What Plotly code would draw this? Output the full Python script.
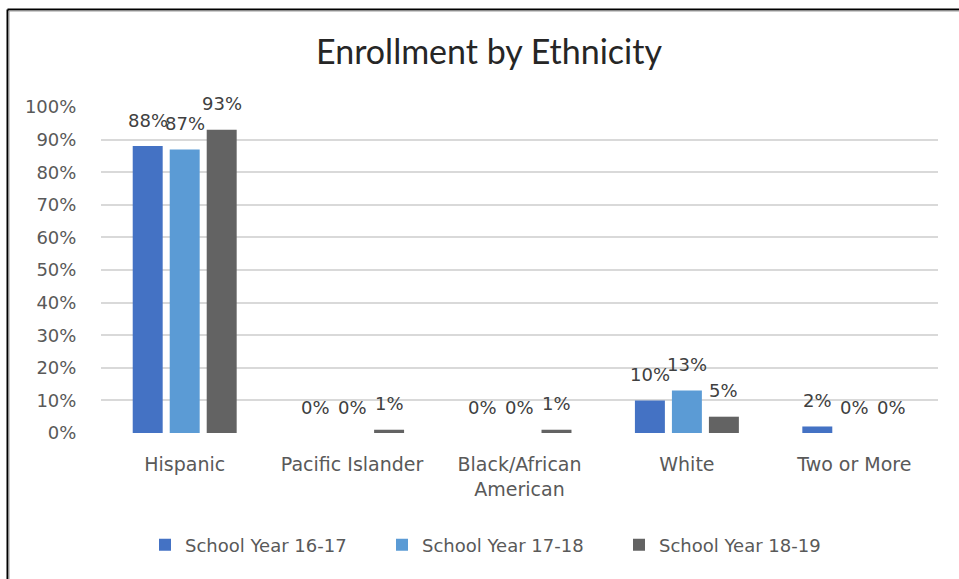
import plotly.graph_objects as go

categories = ["Hispanic", "Pacific Islander", "Black/African<br>American", "White", "Two or More"]
series_names = ["School Year 16-17", "School Year 17-18", "School Year 18-19"]
sy_16_17 = [88, 0, 0, 10, 2]
sy_17_18 = [87, 0, 0, 13, 0]
sy_18_19 = [93, 1, 1, 5, 0]
colors = ["#4472C4", "#5B9BD5", "#636363"]
y_ticks = list(range(0, 101, 10))
y_tick_text = [f"{v}%" for v in y_ticks]

W, H = 959, 579
L, R, T, B = 101, 21, 107, 146
pw, ph = W - L - R, H - T - B

def px_x(x):
    return (x - L) / pw

def px_y(y):
    return (H - B - y) / ph

fig = go.Figure()
all_series = [sy_16_17, sy_17_18, sy_18_19]
for name, vals, col in zip(series_names, all_series, colors):
    fig.add_trace(go.Bar(x=categories, y=vals, name=name, marker=dict(color=col, line=dict(width=0))))

annotations = []
for i, vals in enumerate(all_series):
    for cat, v in zip(categories, vals):
        annotations.append(dict(
            x=cat, y=v, xref="x", yref="y", text=f"{v}%", showarrow=False,
            xshift=(i - 1) * 37, yshift=26, yanchor="middle",
            font=dict(family="DejaVu Sans", size=18, color="#404040"),
        ))
fig.update_layout(annotations=annotations)

line_black = dict(color="#000000", width=2)
line_gray = dict(color="#9a9a9a", width=1)
fig.update_layout(shapes=[
    dict(type="line", xref="paper", yref="paper", x0=px_x(7.5), x1=px_x(W + 2), y0=px_y(9.5), y1=px_y(9.5), line=line_black, layer="above"),
    dict(type="line", xref="paper", yref="paper", x0=px_x(9), x1=px_x(W + 2), y0=px_y(11), y1=px_y(11), line=line_gray, layer="above"),
    dict(type="line", xref="paper", yref="paper", x0=px_x(7.5), x1=px_x(7.5), y0=px_y(9.5), y1=px_y(H + 2), line=line_black, layer="above"),
    dict(type="line", xref="paper", yref="paper", x0=px_x(9), x1=px_x(9), y0=px_y(11), y1=px_y(H + 2), line=line_gray, layer="above"),
])

fig.update_layout(
    width=W, height=H,
    margin=dict(l=L, r=R, t=T, b=B, autoexpand=False),
    paper_bgcolor="white", plot_bgcolor="white",
    barmode="group", bargap=0.337, bargroupgap=0.19,
    title=dict(text="Enrollment by Ethnicity", x=489 / W, xanchor="center", xref="container",
               y=1 - 52 / H, yanchor="middle", yref="container",
               font=dict(family="Lato", size=34, color="#262626")),
    font=dict(family="DejaVu Sans", size=18, color="#595959"),
    showlegend=True,
    legend=dict(orientation="h", x=px_x(145), xanchor="left", y=px_y(545), yanchor="middle",
                entrywidth=192, entrywidthmode="pixels",
                font=dict(family="DejaVu Sans", size=18, color="#595959"),
                bgcolor="rgba(0,0,0,0)", traceorder="normal"),
    xaxis=dict(showline=False, showgrid=False, zeroline=False, ticks="outside", ticklen=0,
               ticklabelstandoff=14, tickfont=dict(family="DejaVu Sans", size=19, color="#595959"),
               automargin=False),
    yaxis=dict(range=[0, 100], tickmode="array", tickvals=y_ticks, ticktext=y_tick_text, showgrid=True,
               gridcolor="#D9D9D9", gridwidth=1.5, zeroline=False, showline=False,
               ticks="outside", ticklen=0, ticklabelstandoff=20,
               tickfont=dict(family="DejaVu Sans", size=18, color="#595959"), automargin=False),
)

fig.write_html("out.html")
